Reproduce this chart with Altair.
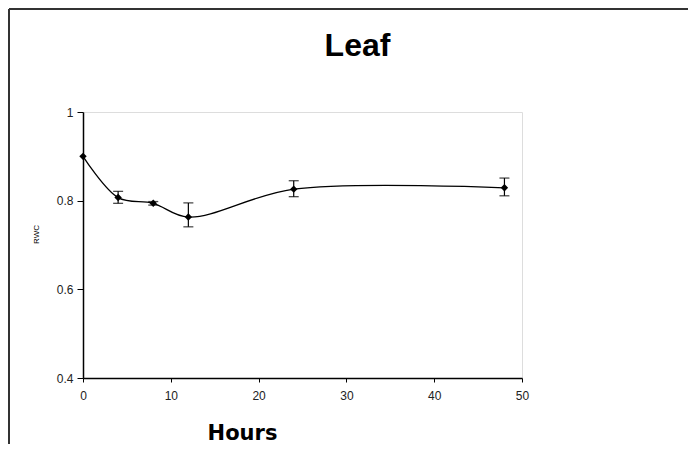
import altair as alt
import pandas as pd

hours = [0, 4, 8, 12, 24, 48]
rwc = [0.900, 0.807, 0.794, 0.763, 0.826, 0.829]
err_low = [None, 0.794, 0.790, 0.741, 0.809, 0.811]
err_high = [None, 0.821, 0.798, 0.795, 0.845, 0.851]

df = pd.DataFrame({"Hours": hours, "RWC": rwc, "lo": err_low, "hi": err_high})
df_err = df.dropna()

W, H = 439, 266
PL, PT, PR, PB = 75, 104, 166, 66

xs = alt.Scale(domain=[0, 50], nice=False, zero=False)
ys = alt.Scale(domain=[0.4, 1.0], nice=False, zero=False)

x_axis = alt.Axis(
    values=[0, 10, 20, 30, 40, 50], grid=False, tickSize=4, tickColor="black",
    domainColor="black", domainWidth=1.5, labelFont="Liberation Sans", labelFontSize=12,
    labelColor="#222", labelPadding=8, labelFlush=False, title="Hours", titleFont="DejaVu Sans",
    titleFontSize=21, titleFontWeight="bold", titleColor="black",
    titleX=159, titleY=61, titleAlign="center", titleBaseline="alphabetic",
)
y_axis = alt.Axis(
    values=[0.4, 0.6, 0.8, 1.0], grid=False, tickSize=6, tickColor="black",
    domainColor="black", domainWidth=1.5, labelFont="Liberation Sans", labelFontSize=12,
    labelColor="#222", labelPadding=4, labelFlush=False, title="RWC", titleFont="Liberation Sans",
    titleFontSize=8, titleFontWeight="normal", titleColor="black",
    titleX=-47, titleY=122, titleAngle=270, titleAlign="center", titleBaseline="middle",
    labelExpr="datum.value == 1 ? '1' : format(datum.value, '.1f')",
)

base = alt.Chart(df)

line = base.mark_line(color="black", strokeWidth=1.3, interpolate="catmull-rom").encode(
    x=alt.X("Hours:Q", scale=xs, axis=x_axis),
    y=alt.Y("RWC:Q", scale=ys, axis=y_axis),
)
pts = base.mark_point(shape="diamond", filled=True, color="black", size=55, opacity=1).encode(
    x=alt.X("Hours:Q", scale=xs), y=alt.Y("RWC:Q", scale=ys)
)
err_chart = alt.Chart(df_err)
bars = err_chart.mark_rule(color="black", strokeWidth=1.2).encode(
    x=alt.X("Hours:Q", scale=xs), y=alt.Y("lo:Q", scale=ys), y2="hi:Q"
)
cap_lo = err_chart.mark_tick(color="black", orient="horizontal", size=10, thickness=1.3).encode(
    x=alt.X("Hours:Q", scale=xs), y=alt.Y("lo:Q", scale=ys)
)
cap_hi = err_chart.mark_tick(color="black", orient="horizontal", size=10, thickness=1.3).encode(
    x=alt.X("Hours:Q", scale=xs), y=alt.Y("hi:Q", scale=ys)
)

frame_data = alt.Data(values=[{"k": 1}])
frame_top = alt.Chart(frame_data).mark_rule(color="#333", strokeWidth=2).encode(
    x=alt.value(-74), x2=alt.value(W + PR), y=alt.value(-103)
)
frame_left = alt.Chart(frame_data).mark_rule(color="#333", strokeWidth=2).encode(
    x=alt.value(-74), y=alt.value(-103), y2=alt.value(H + PB)
)

chart = alt.layer(frame_top, frame_left, line, bars, cap_lo, cap_hi, pts).properties(
    width=W, height=H,
    title=alt.Title("Leaf", fontSize=32, font="Liberation Sans", fontWeight="bold",
                    anchor="middle", dx=55, offset=0, dy=80, baseline="alphabetic",
                    color="black"),
    autosize=alt.AutoSizeParams(type="none"),
    padding={"left": PL, "top": PT, "right": PR, "bottom": PB},
).configure_view(stroke="#c0c0c0", strokeWidth=1).configure(background="white")

chart.save("out.html", embed_options={"renderer": "svg", "actions": False})
